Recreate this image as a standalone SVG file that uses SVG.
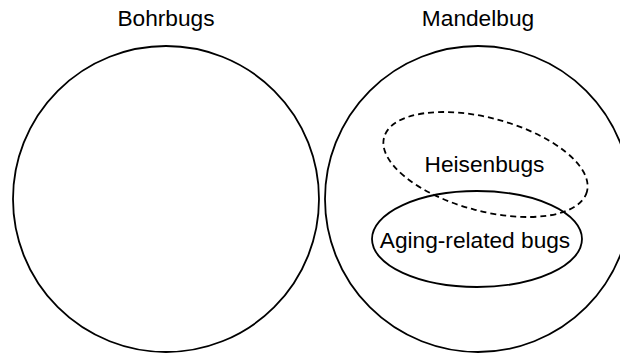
<svg xmlns="http://www.w3.org/2000/svg" width="620" height="354" viewBox="0 0 620 354">
<style>
.shape{fill:none;stroke:#000;stroke-width:1.8}
.dash{stroke-dasharray:6 4}
.lbl{font-family:"Liberation Sans",Arial,sans-serif;font-size:22.7px;fill:#000;text-anchor:middle}
</style>
<rect width="620" height="354" fill="#fff"/>
<g id="bohrbugs">
<circle class="shape" cx="166" cy="199" r="153"/>
<text class="lbl" x="166" y="26">Bohrbugs</text>
</g>
<g id="mandelbug">
<circle class="shape" cx="478" cy="199" r="153"/>
<text class="lbl" x="478" y="26">Mandelbug</text>
</g>
<g id="heisenbugs">
<ellipse class="shape dash" cx="485.5" cy="164.5" rx="105" ry="46.5" transform="rotate(15 485.5 164.5)"/>
<text class="lbl" x="484.5" y="172">Heisenbugs</text>
</g>
<g id="aging">
<ellipse class="shape" cx="477" cy="239" rx="105" ry="48"/>
<text class="lbl" x="475" y="248">Aging-related bugs</text>
</g>
<g id="connectors"></g>
</svg>
